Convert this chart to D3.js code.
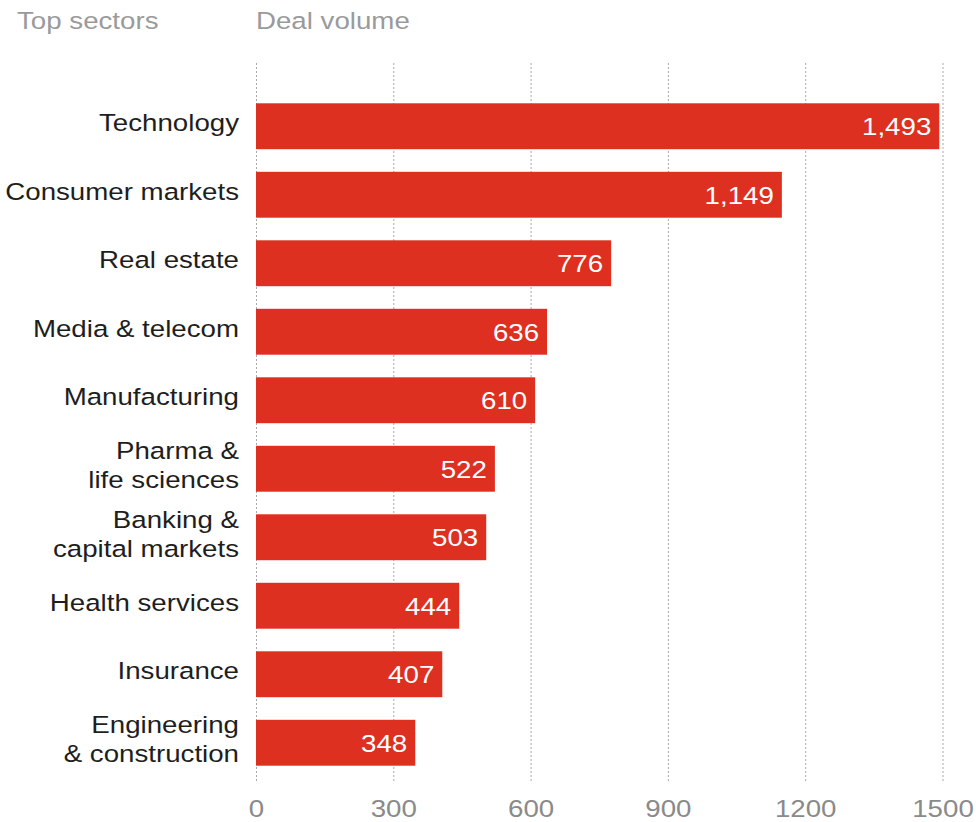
<!DOCTYPE html>
<html>
<head>
<meta charset="utf-8">
<script src="https://cdn.jsdelivr.net/npm/d3@7"></script>
<style>
  html, body { margin: 0; padding: 0; background: #fff; }
  svg { display: block; }
  text { font-family: "Helvetica Neue", Helvetica, Arial, "Liberation Sans", sans-serif; }
</style>
</head>
<body>
<svg id="chart" width="976" height="822"></svg>
<script>
// Sectors ranked by deal volume (line breaks mark wrapped labels)
const sectors = [
  "Technology",
  "Consumer markets",
  "Real estate",
  "Media & telecom",
  "Manufacturing",
  "Pharma &\nlife sciences",
  "Banking &\ncapital markets",
  "Health services",
  "Insurance",
  "Engineering\n& construction"
];
const dealVolume = [1493, 1149, 776, 636, 610, 522, 503, 444, 407, 348];
const xTicks = [0, 300, 600, 900, 1200, 1500];
const headers = { left: "Top sectors", right: "Deal volume" };

const W = 976, H = 822;
const stretch = 1.13;           // horizontal widening of the type
const fontSize = 24.5;
const barColor = "#dd3020";

const svg = d3.select("#chart");

const x = d3.scaleLinear().domain([0, 1500]).range([256, 942.5]);
const y = d3.scaleBand()
  .domain(sectors)
  .range([92, 777])
  .paddingInner(0.33)
  .paddingOuter(0.165);

const gridTop = 61, gridBottom = 781;

// Gridlines and tick labels from a bottom axis
const axis = d3.axisBottom(x)
  .tickValues(xTicks)
  .tickFormat(d3.format("d"))
  .tickSize(-(gridBottom - gridTop))
  .tickSizeOuter(0);

const gAxis = svg.append("g")
  .attr("transform", `translate(0,${gridBottom})`)
  .call(axis);
gAxis.select(".domain").remove();
gAxis.selectAll(".tick line")
  .attr("stroke", "#a8a8a8")
  .attr("stroke-width", 1)
  .attr("stroke-dasharray", "2,2");
gAxis.selectAll(".tick text")
  .attr("y", null)
  .attr("dy", null)
  .attr("transform", `translate(0,36) scale(${stretch},1)`)
  .attr("fill", "#8a8a8a")
  .attr("font-size", fontSize)
  .attr("text-anchor", "middle");

// Bars
svg.append("g").selectAll("rect")
  .data(sectors)
  .join("rect")
  .attr("x", x(0))
  .attr("y", d => y(d))
  .attr("width", (d, i) => x(dealVolume[i]) - x(0))
  .attr("height", y.bandwidth())
  .attr("fill", barColor);

// Value labels inside bar ends
const fmt = d3.format(",");
svg.append("g").selectAll("text")
  .data(sectors)
  .join("text")
  .attr("transform", (d, i) =>
    `translate(${x(dealVolume[i]) - 8},${y(d) + y.bandwidth() / 2 + 9}) scale(${stretch},1)`)
  .attr("text-anchor", "end")
  .attr("fill", "#fff")
  .attr("font-size", fontSize)
  .text((d, i) => fmt(dealVolume[i]));

// Category labels, right aligned against the zero line
const lineGap = 29;
const cat = svg.append("g").selectAll("text")
  .data(sectors)
  .join("text")
  .attr("transform", d => {
    const lines = d.split("\n").length;
    const base = y(d) + y.bandwidth() / 2 + 5 - (lines - 1) * lineGap / 2;
    return `translate(239,${base}) scale(${stretch},1)`;
  })
  .attr("text-anchor", "end")
  .attr("fill", "#1e1e1e")
  .attr("font-size", fontSize);
cat.each(function(d) {
  const t = d3.select(this);
  d.split("\n").forEach((line, k) => {
    t.append("tspan").attr("x", 0).attr("y", k * lineGap).text(line);
  });
});

// Column headers
svg.append("text")
  .attr("transform", `translate(17,29) scale(${stretch},1)`)
  .attr("fill", "#9a9a9a")
  .attr("font-size", fontSize)
  .text(headers.left);
svg.append("text")
  .attr("transform", `translate(256,29) scale(${stretch},1)`)
  .attr("fill", "#9a9a9a")
  .attr("font-size", fontSize)
  .text(headers.right);
</script>
</body>
</html>
